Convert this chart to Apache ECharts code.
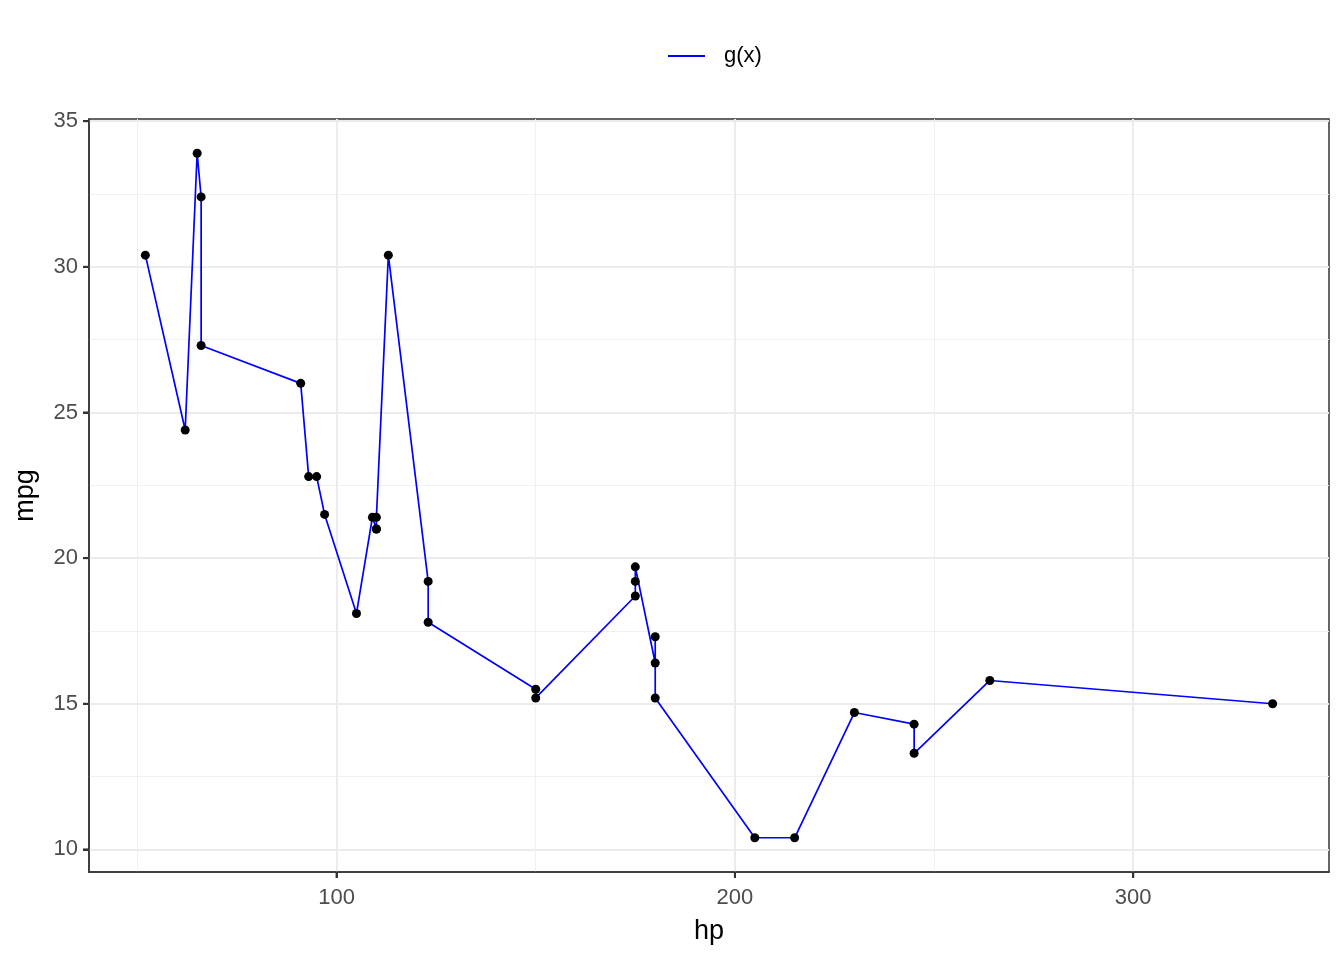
<!DOCTYPE html>
<html><head><meta charset="utf-8">
<script src="https://cdn.jsdelivr.net/npm/echarts@6/dist/echarts.min.js"></script>
<style>html,body{margin:0;padding:0;background:#fff}#c{width:1344px;height:960px}</style>
</head><body><div id="c"></div>
<script>
// hp values (sorted by hp, ties in original order)
const hp  = [52, 62, 65, 66, 66, 91, 93, 95, 97, 105, 109, 110, 110, 110, 113, 123, 123, 150, 150, 175, 175, 175, 180, 180, 180, 205, 215, 230, 245, 245, 264, 335];
const mpg = [30.4, 24.4, 33.9, 32.4, 27.3, 26.0, 22.8, 22.8, 21.5, 18.1, 21.4, 21.0, 21.0, 21.4, 30.4, 19.2, 17.8, 15.5, 15.2, 18.7, 19.2, 19.7, 16.4, 17.3, 15.2, 10.4, 10.4, 14.7, 14.3, 13.3, 15.8, 15.0];
const xTicks = [100, 200, 300];
const xMinor = [50, 150, 250];
const yTicks = [10, 15, 20, 25, 30, 35];
const yMinor = [12.5, 17.5, 22.5, 27.5, 32.5];
const xRange = [37.85, 349.15];
const yRange = [9.225, 35.075];

const pts = hp.map((h, i) => [h, mpg[i]]);
const font = 'Liberation Sans, Arial, sans-serif';

const chart = echarts.init(document.getElementById('c'));
const majorAxis = (ticks, name, isX) => ({
  type: 'value', min: isX ? xRange[0] : yRange[0], max: isX ? xRange[1] : yRange[1],
  position: isX ? 'bottom' : 'left', offset: 0,
  name: name, nameLocation: 'middle', nameGap: isX ? 46 : 50,
  nameTextStyle: {fontFamily: font, fontSize: 27, color: '#000'},
  axisLine: {show: true, lineStyle: {color: '#333', width: 1.5}},
  axisTick: {show: true, inside: false, customValues: ticks, length: 6, lineStyle: {color: '#333', width: 2, opacity: 1}},
  axisLabel: {customValues: ticks, fontFamily: font, fontSize: 22, color: '#4D4D4D', margin: isX ? 15 : 11},
  splitLine: {show: true, lineStyle: {color: '#EBEBEB', width: 2}}
});
const minorAxis = (ticks, isX) => ({
  type: 'value', min: isX ? xRange[0] : yRange[0], max: isX ? xRange[1] : yRange[1],
  position: isX ? 'bottom' : 'left', offset: 0,
  axisLine: {show: false},
  axisTick: {show: false, customValues: ticks},
  axisLabel: {show: false, customValues: ticks},
  splitLine: {show: true, lineStyle: {color: '#F0F0F0', width: 1}}
});

// tick marks drawn through the axes' own scale, at the tick label values
const tickSeries = [
  {name: 'xt', type: 'scatter', xAxisIndex: 0, yAxisIndex: 0, clip: false, silent: true,
   data: xTicks.map(v => [v, yRange[0]]), symbol: 'rect', symbolSize: [2, 6], symbolOffset: [0, 3],
   itemStyle: {color: '#333', opacity: 1}, z: 5},
  {name: 'yt', type: 'scatter', xAxisIndex: 0, yAxisIndex: 0, clip: false, silent: true,
   data: yTicks.map(v => [xRange[0], v]), symbol: 'rect', symbolSize: [6, 2], symbolOffset: [-3, 0],
   itemStyle: {color: '#333', opacity: 1}, z: 5}
];

chart.setOption({
  animation: false,
  backgroundColor: '#fff',
  grid: {left: 89, top: 119, width: 1240, height: 753, show: true, borderColor: '#333', borderWidth: 1.5,
         backgroundColor: 'transparent', containLabel: false, outerBoundsMode: 'none'},
  legend: {
    top: 40, left: 663, data: ['g(x)'],
    itemWidth: 37, itemHeight: 14, icon: 'path://M0,6 L37,6 L37,8 L0,8 Z',
    textStyle: {fontFamily: font, fontSize: 22, color: '#000', padding: [0, 0, 0, 14]}
  },
  xAxis: [majorAxis(xTicks, 'hp', true), minorAxis(xMinor, true)],
  yAxis: [majorAxis(yTicks, 'mpg', false), minorAxis(yMinor, false)],
  series: [
    {name: 'g(x)', type: 'line', xAxisIndex: 0, yAxisIndex: 0, data: pts, showSymbol: false, symbol: 'none',
     lineStyle: {color: '#0000FF', width: 1.7}, itemStyle: {color: '#0000FF'}, z: 3},
    {name: 'pts', type: 'scatter', xAxisIndex: 0, yAxisIndex: 0, data: pts, symbolSize: 9,
     itemStyle: {color: '#000', opacity: 1}, z: 4}
  ].concat(tickSeries)
});
</script></body></html>
